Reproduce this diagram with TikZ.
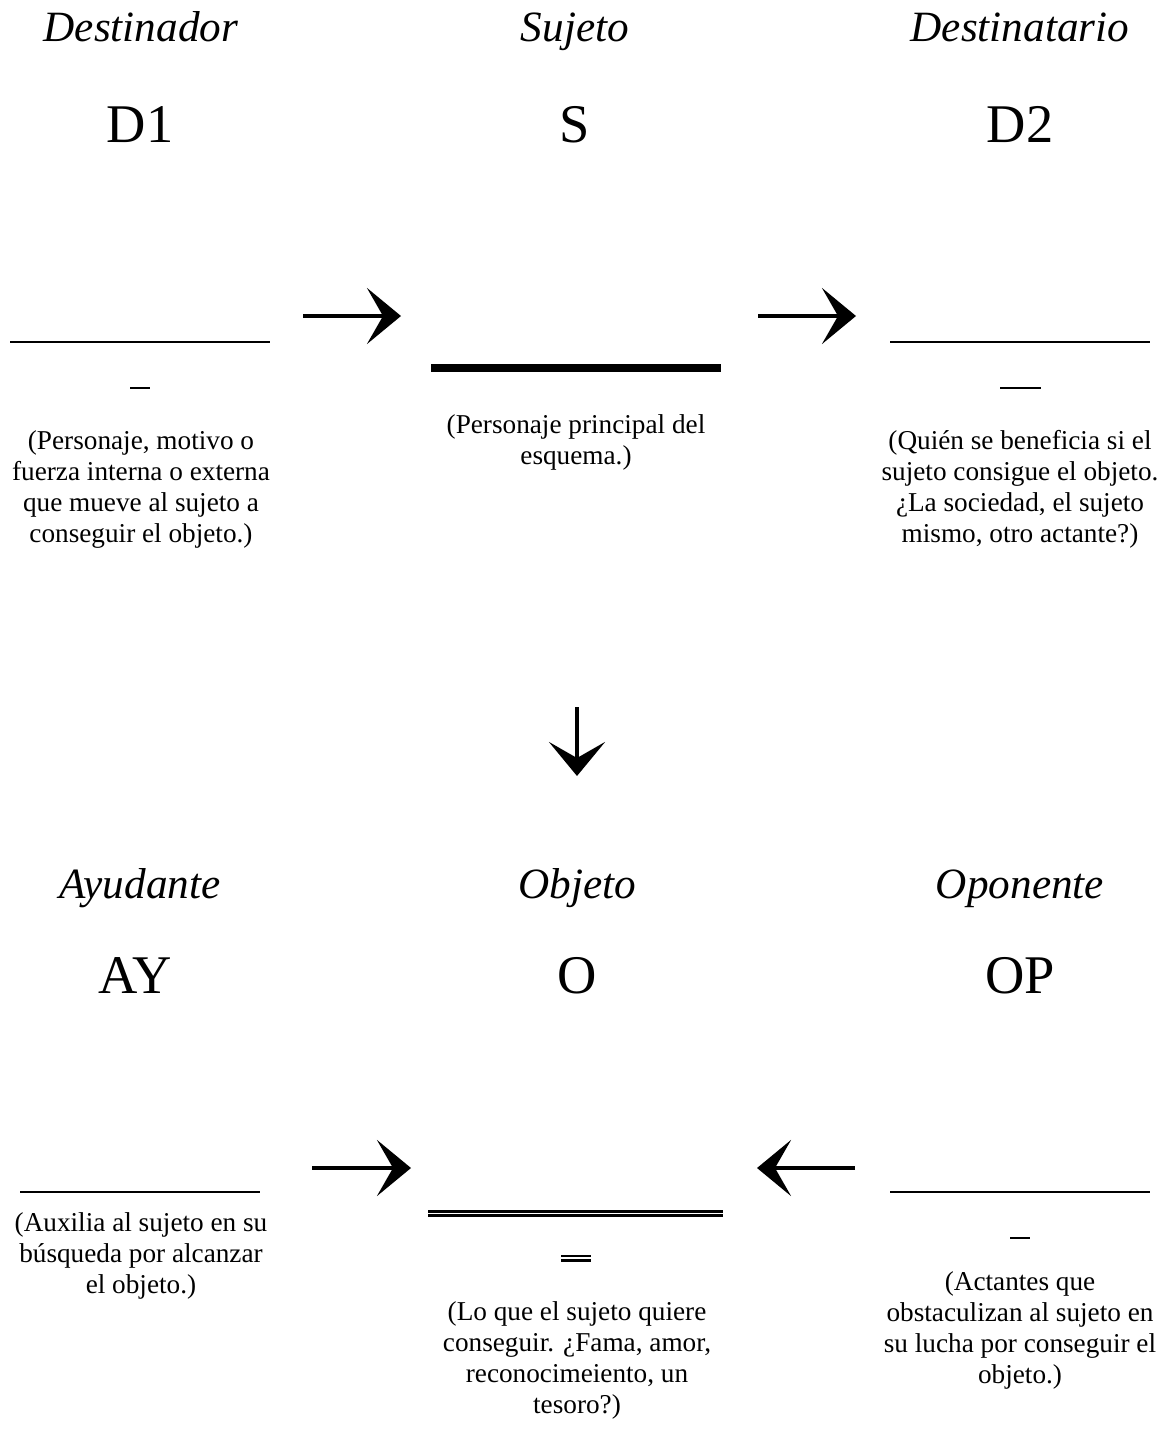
\documentclass[tikz,border=0pt]{standalone}
\usepackage{fontspec}
\setmainfont{Liberation Serif}
\usetikzlibrary{arrows.meta}

\begin{document}
\begin{tikzpicture}[x=0.02cm,y=-0.02cm,
  role/.style={font=\fontsize{24.6}{28}\selectfont\itshape,inner sep=0pt,anchor=base},
  sym/.style={font=\fontsize{31}{34}\selectfont,inner sep=0pt,anchor=base},
  desc/.style={font=\fontsize{15.5}{17.7}\selectfont,align=center,inner sep=0pt,anchor=north},
  slot/.style={line width=1.5pt},
  dbl/.style={line width=1.7pt,double,double distance=0.6pt},
  arr/.style={line width=2.6pt,-{Stealth[length=0.68cm,width=1.12cm,inset=0.32cm]}}]
  \useasboundingbox (0,0) rectangle (1167,1443);
  % top row: destinador, sujeto, destinatario
  \node[role] (dor) at (141,42) {Destinador};
  \node[role] (suj) at (575,42) {Sujeto};
  \node[role] (dio) at (1020,42) {Destinatario};
  \node[sym] (d1) at (140,142) {D1};
  \node[sym] (s) at (575,142) {S};
  \node[sym] (d2) at (1020,142) {D2};
  \draw[slot] (10,342) -- (270,342);
  \draw[slot] (130,388) -- (150,388);
  \draw[line width=4pt] (431,368) -- (721,368);
  \draw[slot] (890,342) -- (1150,342);
  \draw[slot] (1000,388) -- (1041,388);
  \coordinate (a1s) at (303,316);
  \coordinate (a1e) at (401,316);
  \coordinate (a2s) at (758,316);
  \coordinate (a2e) at (856,316);
  \draw[arr] (a1s) -- (a1e);
  \draw[arr] (a2s) -- (a2e);
  \node[desc] (d1txt) at (141,430)
    {(Personaje, motivo o\\fuerza interna o externa\\que mueve al sujeto a\\conseguir el objeto.)};
  \node[desc] (stxt) at (576,414) {(Personaje principal del\\esquema.)};
  \node[desc] (d2txt) at (1020,430)
    {(Quién se beneficia si el\\sujeto consigue el objeto.\\¿La sociedad, el sujeto\\mismo, otro actante?)};
  % sujeto -> objeto
  \coordinate (a3s) at (577,707);
  \coordinate (a3e) at (577,776);
  \draw[arr] (a3s) -- (a3e);
  % bottom row: ayudante, objeto, oponente
  \node[role] (ayu) at (140,898) {Ayudante};
  \node[role] (obj) at (577,898) {Objeto};
  \node[role] (opo) at (1020,898) {Oponente};
  \node[sym] (ay) at (135,993) {AY};
  \node[sym] (o) at (577,993) {O};
  \node[sym] (op) at (1020,993) {OP};
  \draw[slot] (20,1192) -- (260,1192);
  \draw[dbl] (428,1213.5) -- (723,1213.5);
  \draw[dbl] (561,1258) -- (591,1258);
  \draw[slot] (890,1192) -- (1150,1192);
  \draw[slot] (1010,1238) -- (1030,1238);
  \coordinate (a4s) at (312,1168);
  \coordinate (a4e) at (411,1168);
  \coordinate (a5s) at (855,1168);
  \coordinate (a5e) at (757,1168);
  \draw[arr] (a4s) -- (a4e);
  \draw[arr] (a5s) -- (a5e);
  \node[desc] (aytxt) at (141,1212)
    {(Auxilia al sujeto en su\\búsqueda por alcanzar\\el objeto.)};
  \node[desc] (otxt) at (577,1301)
    {(Lo que el sujeto quiere\\conseguir. ¿Fama, amor,\\reconocimeiento, un\\tesoro?)};
  \node[desc] (optxt) at (1020,1271)
    {(Actantes que\\obstaculizan al sujeto en\\su lucha por conseguir el\\objeto.)};
\end{tikzpicture}
\end{document}
